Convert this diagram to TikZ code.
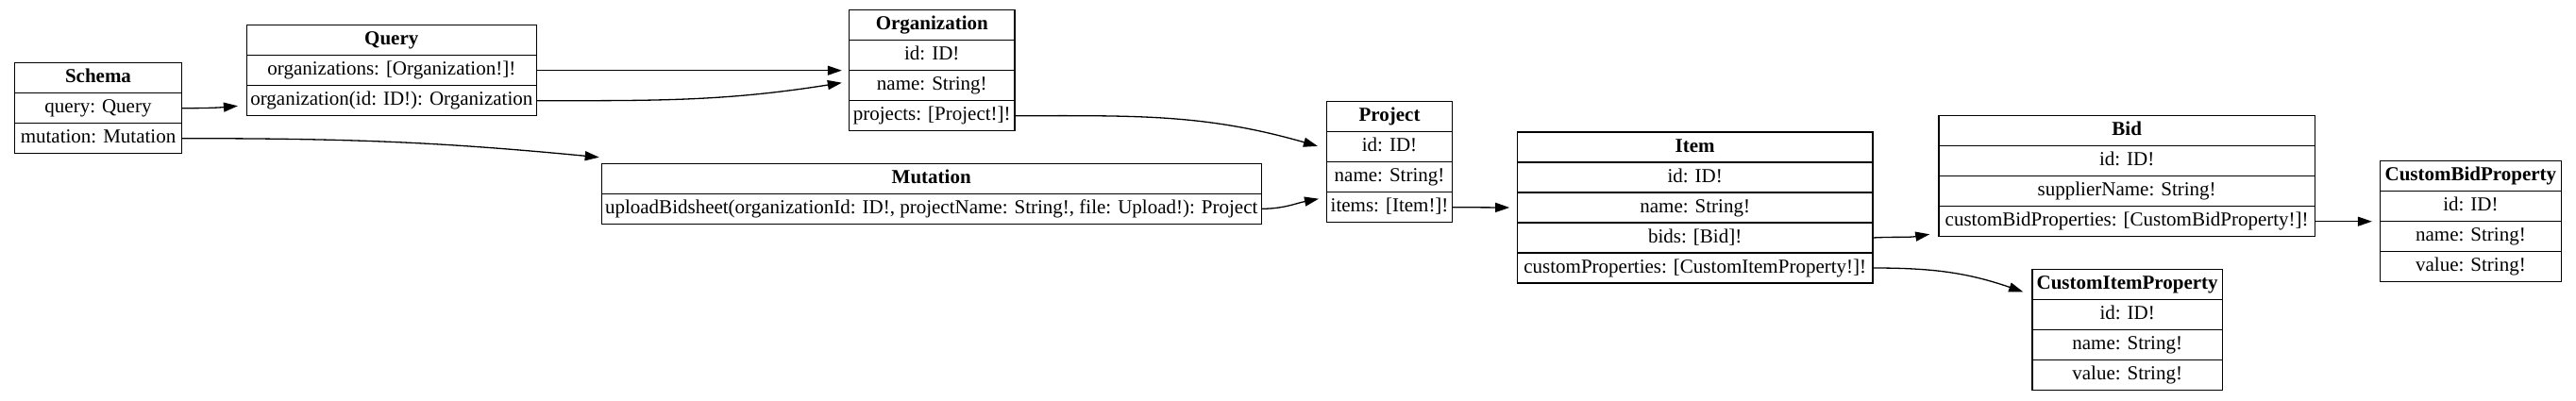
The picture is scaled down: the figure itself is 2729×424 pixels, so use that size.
\documentclass[tikz,border=0pt]{standalone}
\usepackage{fontspec}
\setmainfont{Liberation Serif}
\usepackage{tikz}
\usetikzlibrary{arrows.meta,positioning}
\newcommand{\recfont}{\fontsize{21}{24}\selectfont}
\tikzset{
  field/.style={draw, line width=1.3pt, rectangle, inner sep=0pt, outer sep=0pt,
    minimum height=32pt, minimum width=#1, font=\recfont, text height=15pt, text depth=5pt},
  head/.style={field=#1, font=\recfont\bfseries, anchor=north west},
  link/.style={->, line width=1.3pt}
}

\begin{document}
\begin{tikzpicture}[x=1pt, y=1pt, >={Triangle[length=15pt,width=10pt]}]
        \useasboundingbox (0,0) rectangle (2729,424);
        % Schema and root types
        \node[head=176.4pt] (s-title) at (15.8, 357.3) {Schema};
        \node[field=176.4pt, below=0pt of s-title] (s-query) {query: Query};
        \node[field=176.4pt, below=0pt of s-query] (s-mut) {mutation: Mutation};

        \node[head=306.8pt] (q-title) at (261.4, 397.3) {Query};
        \node[field=306.8pt, below=0pt of q-title] (q-orgs) {organizations: [Organization!]!};
        \node[field=306.8pt, below=0pt of q-orgs] (q-org) {organization(id: ID!): Organization};

        \node[head=699pt] (m-title) at (637.2, 250.7) {Mutation};
        \node[field=699pt, below=0pt of m-title] (m-upload) {uploadBidsheet(organizationId: ID!, projectName: String!, file: Upload!): Project};

        % Organization and Project
        \node[head=175.5pt] (o-title) at (899.5, 413.3) {Organization};
        \node[field=175.5pt, below=0pt of o-title] (o-id) {id: ID!};
        \node[field=175.5pt, below=0pt of o-id] (o-name) {name: String!};
        \node[field=175.5pt, below=0pt of o-name] (o-proj) {projects: [Project!]!};

        \node[head=133.5pt] (p-title) at (1405.3, 316.3) {Project};
        \node[field=133.5pt, below=0pt of p-title] (p-id) {id: ID!};
        \node[field=133.5pt, below=0pt of p-id] (p-name) {name: String!};
        \node[field=133.5pt, below=0pt of p-name] (p-items) {items: [Item!]!};

        % Item and its children
        \node[head=376.8pt] (i-title) at (1607.3, 284) {Item};
        \node[field=376.8pt, below=0pt of i-title] (i-id) {id: ID!};
        \node[field=376.8pt, below=0pt of i-id] (i-name) {name: String!};
        \node[field=376.8pt, below=0pt of i-name] (i-bids) {bids: [Bid]!};
        \node[field=376.8pt, below=0pt of i-bids] (i-cprops) {customProperties: [CustomItemProperty!]!};

        \node[head=398.5pt] (b-title) at (2053.9, 301.3) {Bid};
        \node[field=398.5pt, below=0pt of b-title] (b-id) {id: ID!};
        \node[field=398.5pt, below=0pt of b-id] (b-supp) {supplierName: String!};
        \node[field=398.5pt, below=0pt of b-supp] (b-cbprops) {customBidProperties: [CustomBidProperty!]!};

        \node[head=192.4pt] (cb-title) at (2521.2, 253.3) {CustomBidProperty};
        \node[field=192.4pt, below=0pt of cb-title] (cb-id) {id: ID!};
        \node[field=192.4pt, below=0pt of cb-id] (cb-name) {name: String!};
        \node[field=192.4pt, below=0pt of cb-name] (cb-value) {value: String!};

        \node[head=201.3pt] (ci-title) at (2153, 138.7) {CustomItemProperty};
        \node[field=201.3pt, below=0pt of ci-title] (ci-id) {id: ID!};
        \node[field=201.3pt, below=0pt of ci-id] (ci-name) {name: String!};
        \node[field=201.3pt, below=0pt of ci-name] (ci-value) {value: String!};

        % Edges
        \draw[link] (s-query.east) to[out=0, in=185] ([shift={(-9.5,-5.6)}]q-org.west);
        \draw[link] (s-mut.east) to[out=0, in=174.5] ([shift={(-2.5,6.6)}]m-title.north west);
        \draw[link] (q-orgs.east) -- ([xshift=-7.7pt]o-id.south west);
        \draw[link] (q-org.east) to[out=0, in=189] ([shift={(-7.7,3)}]o-name.west);
        \draw[link] (o-proj.east) to[out=0, in=164] ([shift={(-9.4,0.8)}]p-id.west);
        \draw[link] (m-upload.east) to[out=0, in=191] ([shift={(-8.3,9)}]p-items.west);
        \draw[link] (p-items.east) -- ([xshift=-8.1pt]i-name.west);
        \draw[link] (i-bids.east) to[out=3, in=189] ([shift={(-9.7,2.4)}]b-cbprops.south west);
        \draw[link] (i-cprops.east) to[out=0, in=161] ([shift={(-9.8,-8)}]ci-title.west);
        \draw[link] (b-cbprops.east) -- ([xshift=-8.4pt]cb-id.south west);
\end{tikzpicture}
\end{document}
